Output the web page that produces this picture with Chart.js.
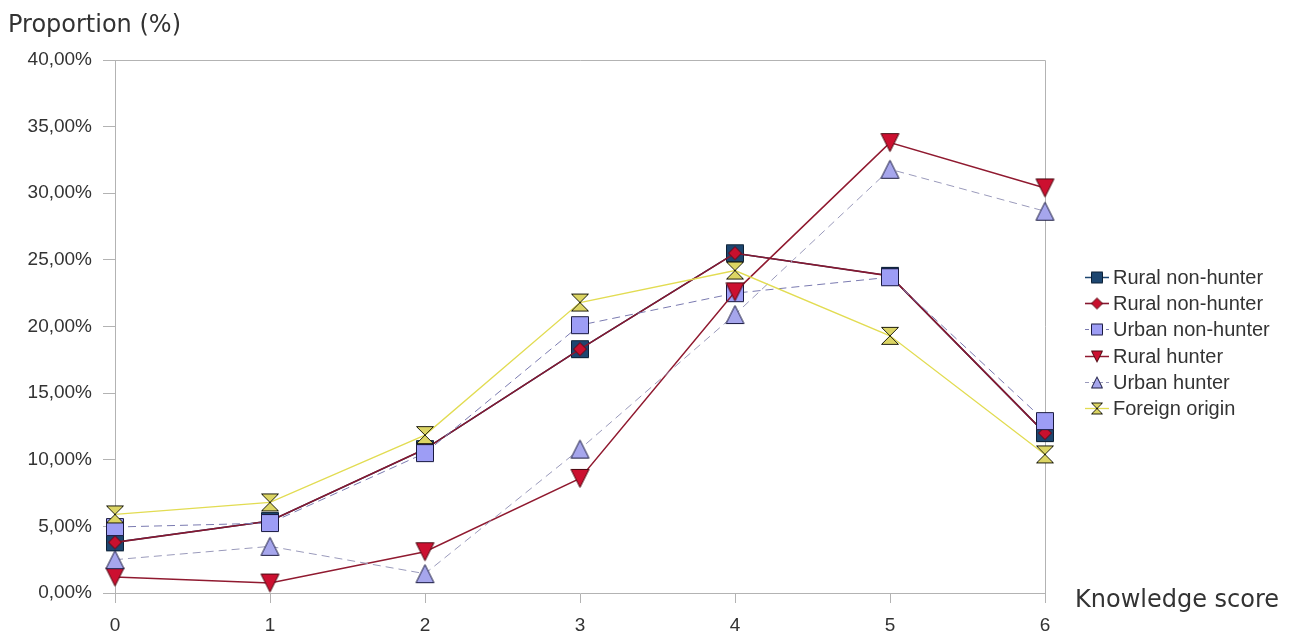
<!DOCTYPE html>
<html><head><meta charset="utf-8">
<script src="https://cdn.jsdelivr.net/npm/chart.js@4/dist/chart.umd.min.js"></script>
<style>html,body{margin:0;padding:0;background:#fff;}#wrap{width:1301px;height:636px;}</style>
</head><body><div id="wrap"><canvas id="c" width="1301" height="636"></canvas></div>
<script>
// ---- data ----
const categories = ['0', '1', '2', '3', '4', '5', '6'];
const seriesNames = ['Rural non-hunter', 'Rural non-hunter', 'Urban non-hunter', 'Rural hunter', 'Urban hunter', 'Foreign origin'];
const ruralNonHunterSquare = [3.8, 5.4, 10.8, 18.3, 25.5, 23.8, 12.0];
const ruralNonHunterDiamond = [3.8, 5.4, 10.8, 18.3, 25.5, 23.8, 12.0];
const urbanNonHunter = [4.95, 5.25, 10.5, 20.1, 22.5, 23.7, 12.9];
const ruralHunter = [1.2, 0.75, 3.1, 8.6, 22.6, 33.8, 30.4];
const urbanHunter = [2.5, 3.5, 1.45, 10.8, 20.9, 31.8, 28.65];
const foreignOrigin = [5.9, 6.8, 11.85, 21.8, 24.2, 19.3, 10.4];
const yTickValues = [0, 5, 10, 15, 20, 25, 30, 35, 40];
const axisTitleY = 'Proportion (%)';
const axisTitleX = 'Knowledge score';

function marker(type, size, fill, stroke) {
  const c = document.createElement('canvas');
  c.width = size + 2; c.height = size + 2;
  const g = c.getContext('2d');
  g.fillStyle = fill; g.strokeStyle = stroke; g.lineWidth = 1;
  const o = 1, s = size;
  g.beginPath();
  if (type === 'square') { g.rect(o + 0.5, o + 0.5, s - 1, s - 1); }
  else if (type === 'diamond') { g.moveTo(o + s / 2, o + 0.5); g.lineTo(o + s - 0.5, o + s / 2); g.lineTo(o + s / 2, o + s - 0.5); g.lineTo(o + 0.5, o + s / 2); g.closePath(); }
  else if (type === 'up') { g.moveTo(o + s / 2, o + 0.5); g.lineTo(o + s - 0.5, o + s - 0.5); g.lineTo(o + 0.5, o + s - 0.5); g.closePath(); }
  else if (type === 'down') { g.moveTo(o + 0.5, o + 0.5); g.lineTo(o + s - 0.5, o + 0.5); g.lineTo(o + s / 2, o + s - 0.5); g.closePath(); }
  else if (type === 'hourglass') { g.moveTo(o + 0.5, o + 0.5); g.lineTo(o + s - 0.5, o + 0.5); g.lineTo(o + 0.5, o + s - 0.5); g.lineTo(o + s - 0.5, o + s - 0.5); g.closePath(); }
  g.fill(); g.stroke();
  return c;
}

const styles = [
  { m: 'square', fill: '#1d4670', stroke: '#0c2036', line: '#1d4670', dash: [], w: 1.5, size: 18, order: 6 },
  { m: 'diamond', fill: '#c8102e', stroke: '#5a0a14', line: '#861830', dash: [], w: 1.6, size: 14, order: 5 },
  { m: 'square', fill: '#9d9df5', stroke: '#1a1a40', line: '#7a7ab0', dash: [8, 5], w: 1, size: 18, order: 4 },
  { m: 'down', fill: '#cc1030', stroke: '#4a0810', line: '#901a30', dash: [], w: 1.5, size: 19, order: 3 },
  { m: 'up', fill: '#a6a6ec', stroke: '#1a1a40', line: '#9a9abb', dash: [8, 5], w: 1, size: 19, order: 2 },
  { m: 'hourglass', fill: '#dcd564', stroke: '#202010', line: '#e2dc52', dash: [], w: 1.3, size: 18, order: 1 }
];
const seriesData = [ruralNonHunterSquare, ruralNonHunterDiamond, urbanNonHunter, ruralHunter, urbanHunter, foreignOrigin];

const datasets = seriesData.map((d, i) => {
  const s = styles[i];
  return {
    label: seriesNames[i], data: d, order: s.order,
    borderColor: s.line, borderWidth: s.w, borderDash: s.dash,
    pointStyle: marker(s.m, s.size, s.fill, s.stroke),
    pointRadius: 9, pointHoverRadius: 9, tension: 0, fill: false
  };
});
const legendIcons = styles.map(s => marker(s.m, 12, s.fill, s.stroke));

const framePlugin = {
  id: 'frame',
  beforeDatasetsDraw(chart) {
    const a = chart.chartArea, g = chart.ctx;
    g.save(); g.strokeStyle = '#b3b3b3'; g.lineWidth = 1;
    g.beginPath();
    g.moveTo(a.left, a.top + 0.5); g.lineTo(a.right + 0.5, a.top + 0.5);
    g.lineTo(a.right + 0.5, a.bottom);
    g.stroke(); g.restore();
  },
  afterDraw(chart) {
    const a = chart.chartArea, g = chart.ctx;
    g.save();
    g.fillStyle = '#333';
    g.font = '24px "DejaVu Sans"';
    g.textBaseline = 'alphabetic'; g.textAlign = 'left';
    g.fillText(axisTitleY, 8, 32);
    g.fillText(axisTitleX, a.right + 30, a.bottom + 14);
    // legend
    const lx = a.right + 40, ly0 = 277, dy = 26.2;
    styles.forEach((s, i) => {
      const y = Math.round(ly0 + i * dy) + 0.5;
      g.strokeStyle = s.line; g.lineWidth = s.w; g.setLineDash(s.dash.length ? [4, 3] : []);
      g.beginPath(); g.moveTo(lx, y); g.lineTo(lx + 24, y); g.stroke();
      g.setLineDash([]);
      const ic = legendIcons[i];
      g.drawImage(ic, lx + 12 - ic.width / 2, y - ic.height / 2);
      g.fillStyle = '#333';
      g.font = '20px "Liberation Sans"';
      g.textBaseline = 'middle';
      g.fillText(seriesNames[i], lx + 28, y + 1);
    });
    g.restore();
  }
};

new Chart(document.getElementById('c'), {
  type: 'line',
  data: { labels: categories, datasets },
  plugins: [framePlugin],
  options: {
    responsive: false, animation: false,
    layout: { padding: { top: 60, right: 256, left: 0, bottom: 0 } },
    plugins: { legend: { display: false }, tooltip: { enabled: false } },
    scales: {
      x: {
        type: 'category', offset: false,
        grid: { drawOnChartArea: false, drawTicks: true, tickLength: 10, color: '#b3b3b3' },
        border: { color: '#b3b3b3' },
        ticks: { color: '#333', font: { family: 'Liberation Sans', size: 19 }, padding: 11, maxRotation: 0, autoSkip: false },
        afterFit(s) { s.height = 43; }
      },
      y: {
        min: 0, max: 40,
        afterBuildTicks(s) { s.ticks = yTickValues.map(v => ({ value: v })); },
        ticks: { color: '#333', font: { family: 'Liberation Sans', size: 19 }, padding: 11,
          callback: v => v.toFixed(2).replace('.', ',') + '%' },
        grid: { drawOnChartArea: false, drawTicks: true, tickLength: 12, color: '#b3b3b3' },
        border: { color: '#b3b3b3' },
        afterFit(s) { s.width = 115; }
      }
    }
  }
});
</script>
</body></html>
